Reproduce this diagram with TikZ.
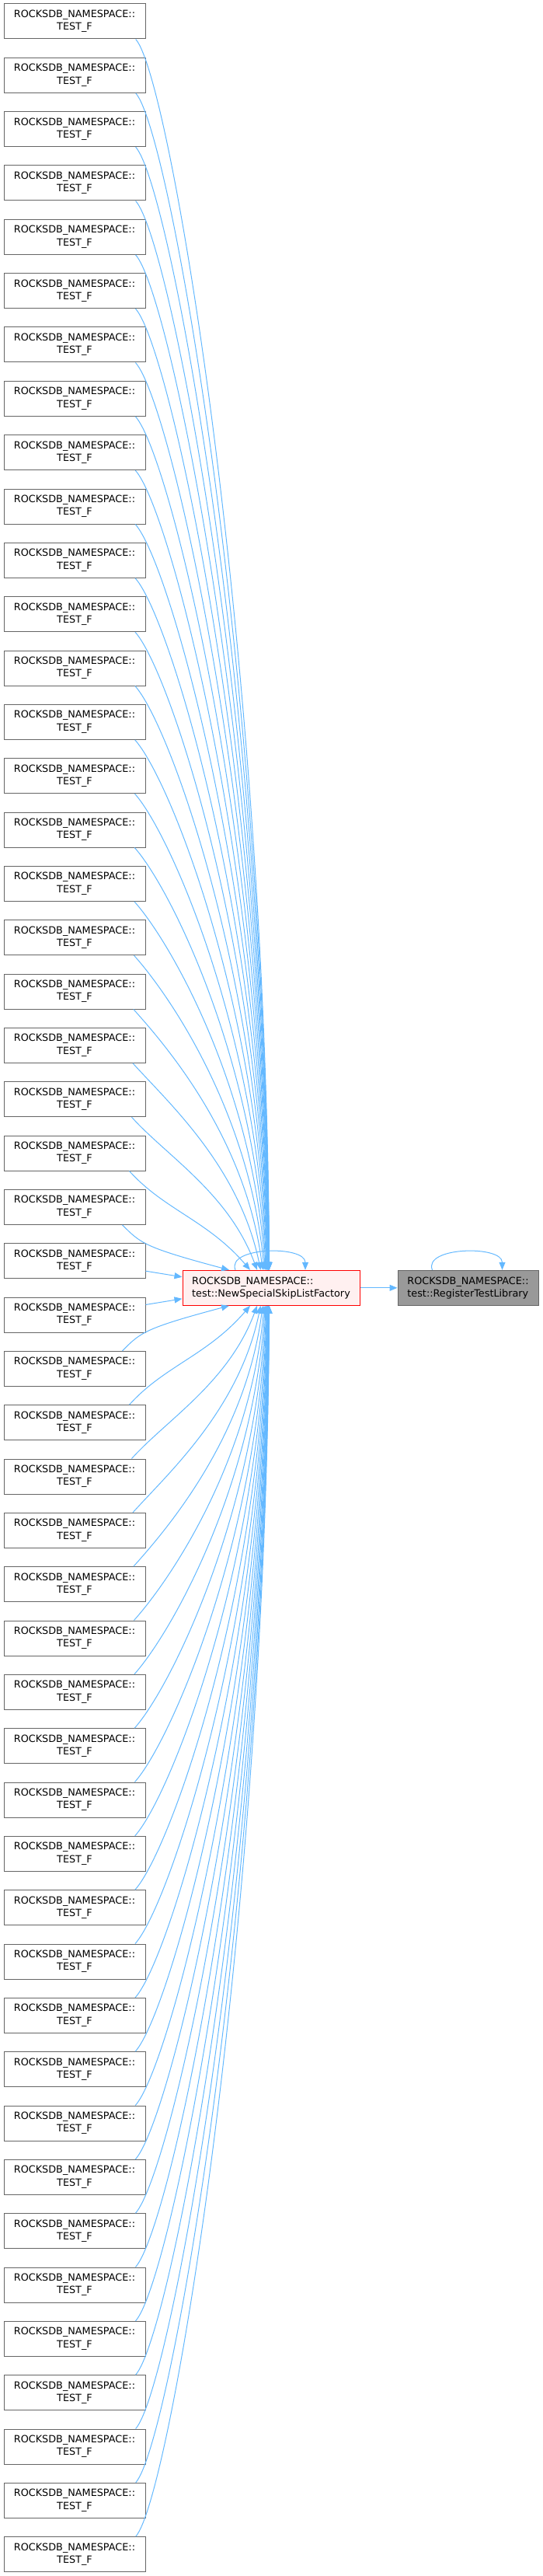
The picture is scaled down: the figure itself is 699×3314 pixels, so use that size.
\documentclass[tikz,border=0pt]{standalone}
\usepackage{fontspec}
\setmainfont{DejaVu Sans}
\usetikzlibrary{arrows.meta, positioning, calc}
\definecolor{edgeblue}{HTML}{63B8FF}
\definecolor{boxgray}{HTML}{666666}
\definecolor{nodepink}{HTML}{FFF0F0}
\definecolor{nodegray}{HTML}{999999}
\tikzset{
  testbox/.style={draw=boxgray, fill=white, line width=0.75pt, minimum width=136.5pt, minimum height=33.75pt, inner sep=0pt, align=center, font=\fontsize{9.6}{12.2}\selectfont},
  funcbox/.style={testbox, align=left},
  calledge/.style={draw=edgeblue, line width=0.75pt, -{Triangle[length=7.5pt, width=6pt]}}
}

\begin{document}
\begin{tikzpicture}[x=0.75pt, y=-0.75pt]
  \useasboundingbox (0,0) rectangle (699,3314);

  % callers
  \foreach \i in {1,...,48}{
    \node[testbox] (t\i) at (96,{27.5+(\i-1)*69.333}) {ROCKSDB\_NAMESPACE::\\TEST\_F};
  }

  % functions
  \node[funcbox, draw=red, fill=nodepink, minimum width=171pt] (nf) at (349,1656.8) {ROCKSDB\_NAMESPACE::\\test::NewSpecialSkipListFactory};
  \node[funcbox, fill=nodegray, minimum width=135.75pt] (rl) at (602.5,1656.8) {ROCKSDB\_NAMESPACE::\\test::RegisterTestLibrary};

  % edges from the callers above and below
  \foreach \i in {1,...,23}{
    \pgfmathsetmacro{\d}{24-\i}
    \pgfmathsetmacro{\dy}{1584-(\i-1)*69.333}
    \pgfmathsetmacro{\sx}{-12-18/\d}
    \pgfmathsetmacro{\ex}{-54/\d}
    \pgfmathsetmacro{\ax}{min(45,0.4*\dy)}
    \pgfmathsetmacro{\ay}{min(50,0.4*\dy)}
    \pgfmathsetmacro{\cx}{-110/\d}
    \pgfmathsetmacro{\cy}{0.5*\dy}
    \pgfmathtruncatemacro{\j}{49-\i}
    \draw[calledge] ($(t\i.south east)+(\sx,0)$) .. controls +(\ax,\ay) and +(\cx,-\cy) .. ($(nf.north)+(\ex,0)$);
    \draw[calledge] ($(t\j.north east)+(\sx,0)$) .. controls +(\ax,-\ay) and +(\cx,\cy) .. ($(nf.south)+(\ex,0)$);
  }
  \draw[calledge] ($(t24.east)+(0,13)$) -- ($(nf.west)+(0,-14)$);
  \draw[calledge] ($(t25.east)+(0,-13)$) -- ($(nf.west)+(0,14)$);

  % self loops and call
  \draw[calledge] ($(nf.north)+(-46,0)$) .. controls +(-12,-30) and +(0,-32) .. ($(nf.north)+(44,0)$);
  \draw[calledge] ($(rl.north)+(-46,0)$) .. controls +(-12,-30) and +(0,-32) .. ($(rl.north)+(44,0)$);
  \draw[calledge] (nf) -- (rl);

\end{tikzpicture}
\end{document}
